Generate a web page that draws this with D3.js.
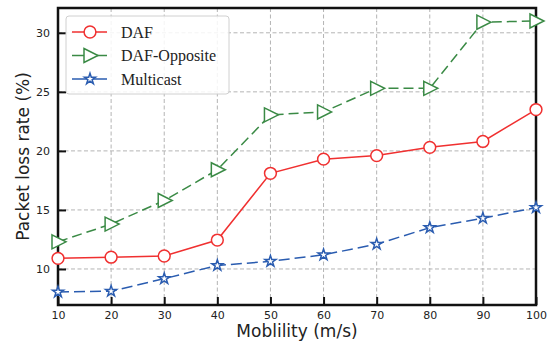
<!DOCTYPE html>
<html>
<head>
<meta charset="utf-8">
<script src="https://cdn.jsdelivr.net/npm/d3@7"></script>
<style>
    body { margin: 0; background: #fff; }
    .tick text { font-family: 'DejaVu Sans', sans-serif; font-size: 11px; fill: #222; }
    .grid line { stroke: #b4b4b4; stroke-dasharray: 4,2.5; stroke-width: 1; }
</style>
</head>
<body>
<div id="chart"></div>
<script>
// Chart data
const mobility = [10, 20, 30, 40, 50, 60, 70, 80, 90, 100];
const dafValues = [10.9, 11.0, 11.1, 12.45, 18.1, 19.3, 19.6, 20.3, 20.8, 23.5];
const oppositeValues = [12.3, 13.8, 15.8, 18.4, 23.05, 23.3, 25.3, 25.3, 30.9, 31.0];
const multicastValues = [8.05, 8.12, 9.18, 10.3, 10.65, 11.2, 12.1, 13.5, 14.3, 15.2];
const yTicks = [10, 15, 20, 25, 30];

const series = [
    { name: 'DAF', values: dafValues, color: '#f03030', dash: null, marker: 'circle' },
    { name: 'DAF-Opposite', values: oppositeValues, color: '#3a8a45', dash: '10,5', marker: 'triangle' },
    { name: 'Multicast', values: multicastValues, color: '#2a5cb0', dash: '11,5', marker: 'star' }
];

const W = 547, H = 345;
const margin = { top: 8, right: 11, bottom: 40, left: 58 };
const width = W - margin.left - margin.right;
const height = H - margin.top - margin.bottom;

const svg = d3.select('#chart').append('svg')
    .attr('width', W)
    .attr('height', H);

const g = svg.append('g')
    .attr('transform', `translate(${margin.left},${margin.top})`);

const x = d3.scaleLinear().domain([10, 100]).range([0, width]);
const y = d3.scaleLinear().domain([6.95, 32.1]).range([height, 0]);

// grid lines
const grid = g.append('g').attr('class', 'grid');
grid.selectAll('.vg').data(mobility.slice(1, -1)).enter().append('line')
    .attr('x1', d => x(d)).attr('x2', d => x(d))
    .attr('y1', 0).attr('y2', height);
grid.selectAll('.hg').data(yTicks).enter().append('line')
    .attr('x1', 0).attr('x2', width)
    .attr('y1', d => y(d)).attr('y2', d => y(d));

// axes, ticks pointing inward
const xAxis = g.append('g')
    .attr('transform', `translate(0,${height})`)
    .call(d3.axisBottom(x).tickValues(mobility).tickSize(-8).tickPadding(6));
const yAxis = g.append('g')
    .call(d3.axisLeft(y).tickValues(yTicks).tickSize(-8).tickPadding(8));
[xAxis, yAxis].forEach(a => {
    a.select('.domain').remove();
    a.selectAll('.tick line').attr('stroke', '#111').attr('stroke-width', 2);
});

// frame
g.append('rect')
    .attr('width', width).attr('height', height)
    .attr('fill', 'none').attr('stroke', '#111').attr('stroke-width', 2.5);

function markerPath(type) {
    if (type === 'circle') return d3.symbol(d3.symbolCircle, 110)();
    if (type === 'star') return d3.symbol(d3.symbolStar, 38)();
    // right-pointing triangle
    return 'M-6,-7L8,0L-6,7Z';
}

const line = d3.line().x((d, i) => x(mobility[i])).y(d => y(d));

series.forEach(s => {
    g.append('path')
        .datum(s.values)
        .attr('fill', 'none')
        .attr('stroke', s.color)
        .attr('stroke-width', 1.5)
        .attr('stroke-dasharray', s.dash)
        .attr('d', line);

    g.selectAll(null).data(s.values).enter().append('path')
        .attr('transform', (d, i) => `translate(${x(mobility[i])},${y(d)})`)
        .attr('d', markerPath(s.marker))
        .attr('fill', '#fff')
        .attr('stroke', s.color)
        .attr('stroke-width', 1.5);
});

// legend
const legend = g.append('g').attr('transform', 'translate(8,8)');
legend.append('rect')
    .attr('width', 163).attr('height', 78)
    .attr('rx', 3)
    .attr('fill', 'rgba(255,255,255,0.85)')
    .attr('stroke', '#d0d0d0');
series.forEach((s, i) => {
    const row = legend.append('g').attr('transform', `translate(0,${16 + i * 23.5})`);
    row.append('line')
        .attr('x1', 6).attr('x2', 41)
        .attr('stroke', s.color).attr('stroke-width', 1.5);
    row.append('path')
        .attr('transform', 'translate(24,0)')
        .attr('d', markerPath(s.marker))
        .attr('fill', '#fff')
        .attr('stroke', s.color)
        .attr('stroke-width', 1.5);
    row.append('text')
        .attr('x', 55).attr('y', 5.5)
        .style('font-family', "'Liberation Serif', serif")
        .style('font-size', '16px')
        .attr('fill', '#222')
        .text(s.name);
});

// axis titles
svg.append('text')
    .attr('x', margin.left + width / 2)
    .attr('y', H - 8)
    .attr('text-anchor', 'middle')
    .style('font-family', "'DejaVu Sans', sans-serif")
    .style('font-size', '17px')
    .attr('fill', '#222')
    .text('Moblility (m/s)');

svg.append('text')
    .attr('transform', 'rotate(-90)')
    .attr('x', -(margin.top + height / 2))
    .attr('y', 29)
    .attr('text-anchor', 'middle')
    .style('font-family', "'DejaVu Sans', sans-serif")
    .style('font-size', '17px')
    .attr('fill', '#222')
    .text('Packet loss rate (%)');
</script>
</body>
</html>
